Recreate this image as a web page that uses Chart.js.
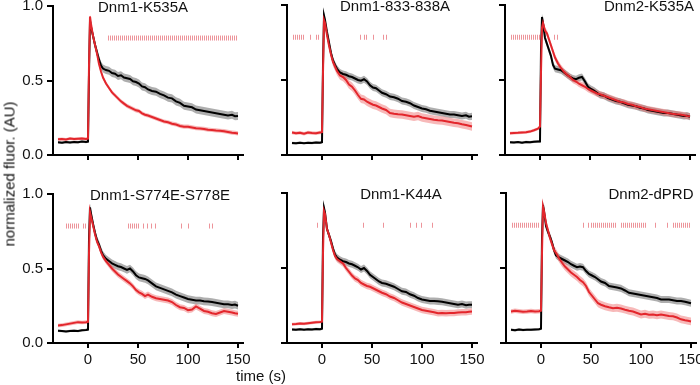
<!DOCTYPE html>
<html>
<head>
<meta charset="utf-8">
<script src="https://cdn.jsdelivr.net/npm/chart.js@4.4.1/dist/chart.umd.min.js"></script>
<style>
  body { margin: 0; width: 700px; height: 385px; position: relative; background: #fff; overflow: hidden;
         font-family: "Liberation Sans", Arial, sans-serif; color: #111; }
  canvas { position: absolute; }
  .ylab { position: absolute; left: 9px; top: 174px; transform: translate(-50%, -50%) rotate(-90deg);
          font-size: 15px; white-space: nowrap; }
  .xlab { position: absolute; left: 261px; top: 375px; transform: translate(-50%, -50%);
          font-size: 15px; white-space: nowrap; }
</style>
</head>
<body>
<canvas id="p1" width="257" height="192" style="left:0px;top:-7px"></canvas>
<canvas id="p2" width="257" height="192" style="left:234px;top:-7px"></canvas>
<canvas id="p3" width="257" height="192" style="left:452px;top:-7px"></canvas>
<canvas id="p4" width="257" height="192" style="left:0px;top:181px"></canvas>
<canvas id="p5" width="257" height="192" style="left:234px;top:181px"></canvas>
<canvas id="p6" width="257" height="192" style="left:453px;top:181px"></canvas>
<div class="ylab">normalized fluor. (AU)</div>
<div class="xlab">time (s)</div>

<script>
  // time points (s), shared by every trace
  const time = [-30, -26, -22, -18, -14, -10, -6, -2, 0,
    1, 2, 3, 5, 7, 9, 11, 13, 15,
    18, 21, 24, 27, 30, 33, 36, 39, 42, 45, 48, 51, 54, 57, 60,
    64, 68, 72, 76, 80, 84, 88, 92, 96, 100, 104, 108, 112, 116, 120, 124, 128, 132, 136, 140, 144,
    147, 150];

  const xTicks = [0, 50, 100, 150];
  const yTicks = [0, 0.5, 1];

  // Dnm1-K535A
  const k535aWT = [0.085, 0.082, 0.087, 0.084, 0.088, 0.086, 0.09, 0.087, 0.09,
    0.55, 0.9, 0.86, 0.8, 0.74, 0.69, 0.64, 0.6, 0.58,
    0.57, 0.565, 0.55, 0.545, 0.53, 0.535, 0.52, 0.515, 0.51, 0.495, 0.49, 0.48, 0.46, 0.455, 0.44,
    0.43, 0.425, 0.41, 0.4, 0.385, 0.38, 0.36, 0.35, 0.33, 0.325, 0.32, 0.305, 0.3, 0.295, 0.29, 0.285, 0.28, 0.275, 0.27, 0.265, 0.27,
    0.26, 0.262];
  const k535aMut = [0.105, 0.108, 0.104, 0.11, 0.107, 0.109, 0.11, 0.108, 0.11,
    0.6, 0.93, 0.88, 0.8, 0.74, 0.68, 0.61, 0.56, 0.52,
    0.48, 0.45, 0.42, 0.4, 0.38, 0.36, 0.345, 0.33, 0.32, 0.31, 0.3, 0.295, 0.28, 0.27, 0.265,
    0.255, 0.245, 0.235, 0.225, 0.22, 0.21, 0.205, 0.195, 0.19, 0.19, 0.185, 0.18, 0.178, 0.175, 0.17, 0.168, 0.165, 0.163, 0.16, 0.155, 0.15,
    0.148, 0.145];

  // Dnm1-833-838A
  const m833WT = [0.08, 0.078, 0.082, 0.079, 0.081, 0.08, 0.083, 0.082, 0.085,
    0.6, 0.93, 0.9, 0.82, 0.75, 0.68, 0.63, 0.6, 0.575,
    0.55, 0.54, 0.535, 0.525, 0.52, 0.51, 0.5, 0.495, 0.505, 0.49, 0.465, 0.45, 0.445, 0.43, 0.415,
    0.405, 0.39, 0.385, 0.375, 0.36, 0.355, 0.345, 0.33, 0.32, 0.31, 0.305, 0.295, 0.29, 0.285, 0.28, 0.275, 0.27, 0.27, 0.265, 0.26, 0.265,
    0.255, 0.258];
  const m833Mut = [0.15, 0.145, 0.148, 0.142, 0.15, 0.147, 0.145, 0.15, 0.152,
    0.55, 0.9, 0.88, 0.8, 0.73, 0.67, 0.62, 0.59, 0.56,
    0.53, 0.52, 0.5, 0.47, 0.455, 0.43, 0.4, 0.375, 0.37, 0.355, 0.345, 0.335, 0.33, 0.32, 0.31,
    0.3, 0.28, 0.275, 0.272, 0.27, 0.265, 0.26, 0.255, 0.26, 0.25, 0.245, 0.24, 0.235, 0.232, 0.23, 0.225, 0.22, 0.215, 0.212, 0.205, 0.2,
    0.195, 0.19];

  // Dnm2-K535A
  const dnm2K535aWT = [0.085, 0.083, 0.086, 0.082, 0.087, 0.085, 0.088, 0.09, 0.09,
    0.7, 0.92, 0.88, 0.78, 0.74, 0.7, 0.66, 0.6, 0.575,
    0.57, 0.565, 0.55, 0.535, 0.52, 0.51, 0.505, 0.515, 0.52, 0.49, 0.455, 0.44, 0.43, 0.415, 0.4,
    0.395, 0.38, 0.37, 0.36, 0.355, 0.345, 0.335, 0.33, 0.325, 0.315, 0.31, 0.3, 0.295, 0.29, 0.285, 0.28, 0.28, 0.275, 0.27, 0.265, 0.26,
    0.262, 0.255];
  const dnm2K535aMut = [0.145, 0.147, 0.148, 0.15, 0.152, 0.156, 0.165, 0.175, 0.19,
    0.55, 0.85, 0.88, 0.83, 0.81, 0.77, 0.73, 0.69, 0.65,
    0.61, 0.58, 0.555, 0.535, 0.52, 0.5, 0.49, 0.475, 0.465, 0.455, 0.44, 0.43, 0.42, 0.41, 0.405,
    0.395, 0.385, 0.375, 0.365, 0.355, 0.35, 0.34, 0.335, 0.325, 0.32, 0.31, 0.305, 0.3, 0.295, 0.29, 0.285, 0.28, 0.275, 0.272, 0.27, 0.265,
    0.26, 0.258];

  // Dnm1-S774E-S778E
  const s774eWT = [0.082, 0.08, 0.078, 0.081, 0.083, 0.08, 0.085, 0.088, 0.09,
    0.7, 0.91, 0.87, 0.8, 0.74, 0.69, 0.66, 0.62, 0.59,
    0.565, 0.55, 0.535, 0.525, 0.515, 0.51, 0.5, 0.49, 0.5, 0.48, 0.455, 0.44, 0.435, 0.43, 0.42,
    0.4, 0.38, 0.37, 0.36, 0.35, 0.34, 0.325, 0.315, 0.305, 0.295, 0.29, 0.285, 0.285, 0.28, 0.278, 0.275, 0.27, 0.265, 0.26, 0.26, 0.255,
    0.258, 0.25];
  const s774eMut = [0.118, 0.12, 0.125, 0.13, 0.135, 0.14, 0.138, 0.14, 0.142,
    0.6, 0.88, 0.85, 0.79, 0.73, 0.68, 0.65, 0.61, 0.58,
    0.55, 0.525, 0.5, 0.48, 0.46, 0.445, 0.43, 0.415, 0.4, 0.38, 0.355, 0.34, 0.33, 0.315, 0.325,
    0.31, 0.3, 0.295, 0.29, 0.285, 0.275, 0.255, 0.24, 0.235, 0.22, 0.225, 0.245, 0.23, 0.215, 0.21, 0.2, 0.195, 0.205, 0.215, 0.21, 0.205,
    0.2, 0.196];

  // Dnm1-K44A
  const k44aWT = [0.09, 0.088, 0.092, 0.089, 0.091, 0.09, 0.093, 0.092, 0.095,
    0.7, 0.9, 0.87, 0.76, 0.72, 0.68, 0.63, 0.59, 0.57,
    0.555, 0.545, 0.54, 0.53, 0.525, 0.515, 0.505, 0.49, 0.5, 0.48, 0.455, 0.44, 0.425, 0.41, 0.4,
    0.395, 0.385, 0.375, 0.36, 0.345, 0.34, 0.325, 0.315, 0.3, 0.29, 0.285, 0.28, 0.28, 0.278, 0.275, 0.27, 0.265, 0.26, 0.255, 0.26, 0.252,
    0.255, 0.255];
  const k44aMut = [0.125, 0.127, 0.13, 0.128, 0.132, 0.135, 0.138, 0.14, 0.142,
    0.6, 0.88, 0.86, 0.76, 0.72, 0.67, 0.62, 0.58, 0.56,
    0.545, 0.53, 0.5, 0.475, 0.45, 0.43, 0.42, 0.4, 0.39, 0.38, 0.375, 0.365, 0.355, 0.345, 0.335,
    0.325, 0.31, 0.3, 0.285, 0.27, 0.26, 0.25, 0.24, 0.23, 0.22, 0.215, 0.21, 0.205, 0.198, 0.2, 0.198, 0.2, 0.2, 0.203, 0.205, 0.205,
    0.208, 0.21];

  // Dnm2-dPRD
  const dprdWT = [0.088, 0.085, 0.09, 0.087, 0.089, 0.088, 0.09, 0.092, 0.095,
    0.7, 0.92, 0.88, 0.78, 0.74, 0.71, 0.67, 0.62, 0.585,
    0.57, 0.56, 0.55, 0.54, 0.525, 0.515, 0.505, 0.51, 0.505, 0.48, 0.46, 0.45, 0.44, 0.425, 0.41,
    0.4, 0.38, 0.375, 0.37, 0.364, 0.35, 0.335, 0.33, 0.325, 0.32, 0.315, 0.31, 0.305, 0.3, 0.29, 0.29, 0.29, 0.285, 0.28, 0.28, 0.275,
    0.27, 0.265];
  const dprdMut = [0.21, 0.215, 0.212, 0.208, 0.21, 0.213, 0.21, 0.212, 0.215,
    0.6, 0.91, 0.88, 0.8, 0.75, 0.7, 0.66, 0.62, 0.6,
    0.565, 0.535, 0.51, 0.49, 0.47, 0.455, 0.44, 0.42, 0.405, 0.38, 0.34, 0.315, 0.29, 0.265, 0.255,
    0.245, 0.238, 0.232, 0.235, 0.23, 0.222, 0.215, 0.21, 0.2, 0.19, 0.195, 0.188, 0.19, 0.185, 0.19, 0.185, 0.18, 0.178, 0.17, 0.158, 0.152,
    0.148, 0.144];

  // SEM as [before stimulus, after stimulus]
  const semK535aWT = [0.008, 0.027], semK535aMut = [0.01, 0.014];
  const semM833WT = [0.008, 0.024], semM833Mut = [0.012, 0.028];
  const semDnm2K535aWT = [0.008, 0.024], semDnm2K535aMut = [0.01, 0.022];
  const semS774eWT = [0.008, 0.026], semS774eMut = [0.012, 0.02];
  const semK44aWT = [0.008, 0.024], semK44aMut = [0.01, 0.022];
  const semDprdWT = [0.008, 0.024], semDprdMut = [0.015, 0.026];

  // significance marks, [start, end] in s
  const sigK535a = [[20, 150]];
  const sigM833 = [[-29, -18], [-12, -11], [-6, -2], [38, 39], [42, 46], [51, 52], [61, 62], [64, 65]];
  const sigDnm2K535a = [[-29, 0], [14, 15], [17, 18]];
  const sigS774e = [[-22, -8], [-5, -1], [40, 51], [55, 56], [59, 60], [63, 64], [67, 68], [93, 94], [100, 101], [121, 122], [124, 125]];
  const sigK44a = [[-5, -4], [41, 43], [61, 62], [88, 89], [94, 95], [99, 100], [110, 111]];
  const sigDprd = [[-29, -1], [42, 44], [47, 48], [50, 76], [80, 106], [114, 115], [126, 127], [132, 149]];
  const sigLevel = 0.785;

  Chart.defaults.font.family = "'Liberation Sans', Arial, sans-serif";
  Chart.defaults.font.size = 15;
  Chart.defaults.color = "#111";

  const panelTitle = {
    id: "panelTitle",
    afterDraw(chart, args, opts) {
      const { ctx, scales } = chart;
      ctx.save();
      ctx.font = "15px 'Liberation Sans', Arial, sans-serif";
      ctx.fillStyle = "#111";
      ctx.textAlign = "center";
      ctx.textBaseline = "middle";
      ctx.fillText(opts.text, scales.x.getPixelForValue(opts.at), scales.y.getPixelForValue(1) + 2);
      ctx.restore();
    },
  };

  function band(mean, sem, color, order) {
    const up = time.map((t, i) => ({ x: t, y: mean[i] + (t < 1 ? sem[0] : sem[1]) }));
    const lo = time.map((t, i) => ({ x: t, y: mean[i] - (t < 1 ? sem[0] : sem[1]) }));
    return [
      { data: up, borderWidth: 0, pointRadius: 0, fill: "+1", backgroundColor: color, order: order },
      { data: lo, borderWidth: 0, pointRadius: 0, fill: false, order: order },
    ];
  }

  function trace(mean, color, order) {
    return {
      data: time.map((t, i) => ({ x: t, y: mean[i] })),
      borderColor: color, borderWidth: 2, pointRadius: 0, fill: false, tension: 0, order: order,
    };
  }

  function makePanel(id, title, titleAt, wt, mut, semWT, semMut, sig, showX, showY) {
    const datasets = [
      ...band(wt, semWT, "rgba(140,140,140,0.7)", 4),
      ...band(mut, semMut, "rgba(238,100,100,0.45)", 3),
      trace(wt, "#000", 2),
      trace(mut, "#e3262c", 1),
    ];
    sig.forEach(r => {
      datasets.push({
        data: [{ x: r[0], y: sigLevel }, { x: r[1], y: sigLevel }],
        borderColor: "rgba(228,90,100,0.65)", borderWidth: 5, borderDash: [1, 1],
        pointRadius: 0, fill: false, order: 0,
      });
    });

    new Chart(document.getElementById(id), {
      type: "line",
      data: { datasets },
      options: {
        responsive: false,
        animation: false,
        layout: { padding: { top: 12, right: 14, left: 0, bottom: 0 } },
        plugins: {
          legend: { display: false },
          tooltip: { enabled: false },
          panelTitle: { text: title, at: titleAt },
        },
        scales: {
          x: {
            type: "linear", min: -35, max: 155,
            afterBuildTicks: s => { s.ticks = xTicks.map(v => ({ value: v })); },
            afterFit: s => { s.height = 30; },
            ticks: { display: showX, padding: 3, maxRotation: 0 },
            grid: { drawOnChartArea: false, drawTicks: true, tickLength: 5, color: "#000", lineWidth: 2 },
            border: { display: true, color: "#000", width: 2 },
          },
          y: {
            type: "linear", min: 0, max: 1,
            afterBuildTicks: s => { s.ticks = yTicks.map(v => ({ value: v })); },
            afterFit: s => { s.width = 53; },
            ticks: { display: showY, padding: 4, callback: v => v.toFixed(1) },
            grid: { drawOnChartArea: false, drawTicks: true, tickLength: 6, color: "#000", lineWidth: 2 },
            border: { display: true, color: "#000", width: 2 },
          },
        },
      },
      plugins: [panelTitle],
    });
  }

  makePanel("p1", "Dnm1-K535A", 55, k535aWT, k535aMut, semK535aWT, semK535aMut, sigK535a, false, true);
  makePanel("p2", "Dnm1-833-838A", 73, m833WT, m833Mut, semM833WT, semM833Mut, sigM833, false, false);
  makePanel("p3", "Dnm2-K535A", 109, dnm2K535aWT, dnm2K535aMut, semDnm2K535aWT, semDnm2K535aMut, sigDnm2K535a, false, false);
  makePanel("p4", "Dnm1-S774E-S778E", 72, s774eWT, s774eMut, semS774eWT, semS774eMut, sigS774e, true, true);
  makePanel("p5", "Dnm1-K44A", 79, k44aWT, k44aMut, semK44aWT, semK44aMut, sigK44a, true, false);
  makePanel("p6", "Dnm2-dPRD", 110, dprdWT, dprdMut, semDprdWT, semDprdMut, sigDprd, true, false);
</script>
</body>
</html>
